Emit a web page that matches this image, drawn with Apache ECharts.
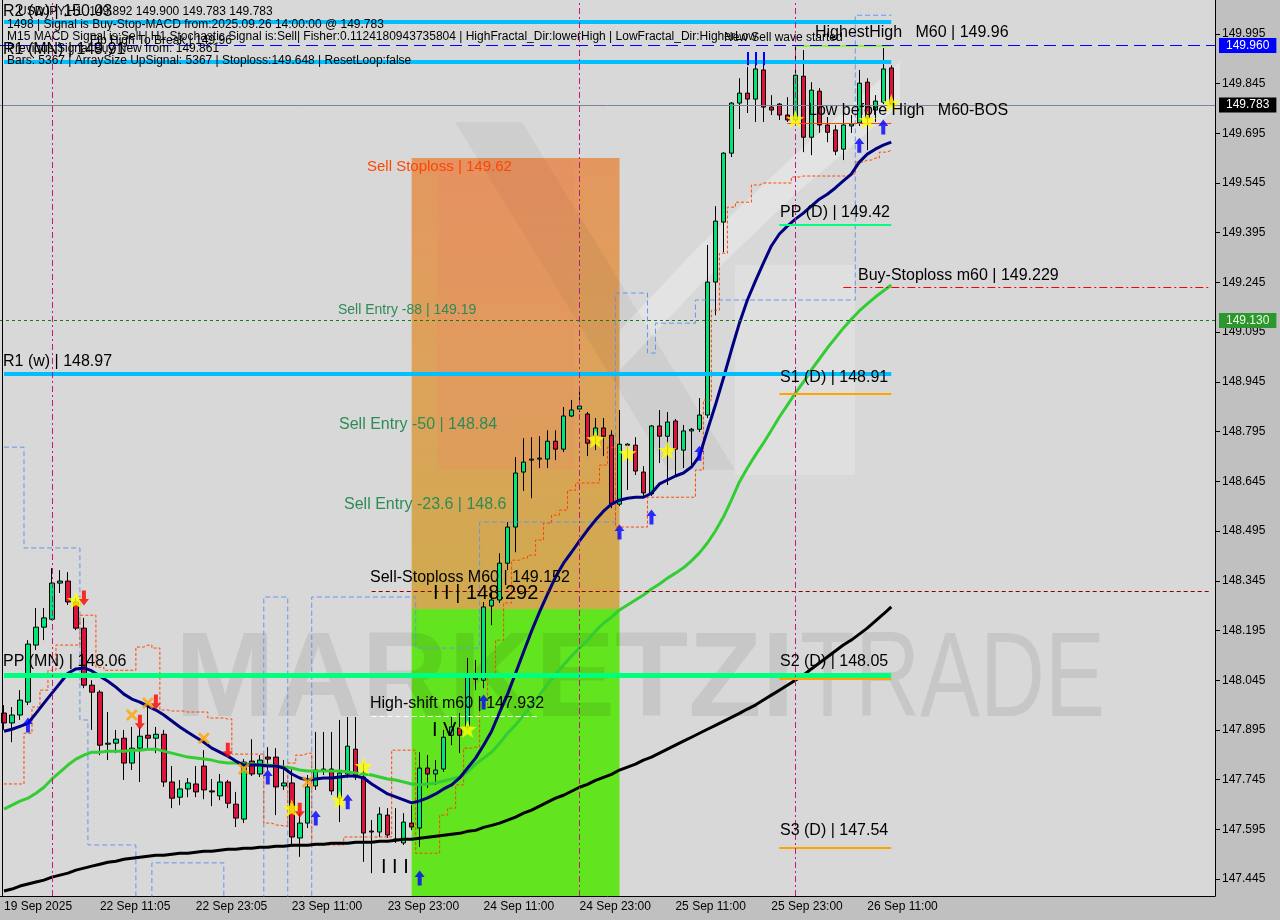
<!DOCTYPE html>
<html><head><meta charset="utf-8">
<script src="https://cdn.jsdelivr.net/npm/echarts@6.0.0/dist/echarts.min.js"></script>
<style>html,body{margin:0;padding:0;background:#c0c0c0;}#chart{width:1280px;height:920px;}</style>
</head><body><div id="chart"></div>
<script>
const FONT = '"Liberation Sans", Arial, sans-serif';

// H1 candles: [open, close, low, high]
const candles = [
[147.946,147.916,147.895,147.970],[147.916,147.940,147.858,147.964],[147.940,147.985,147.925,148.015],[147.979,148.154,147.970,148.166],
[148.151,148.205,148.136,148.263],[148.205,148.233,148.166,148.263],[148.229,148.338,148.226,148.383],[148.338,148.344,148.308,148.377],
[148.344,148.281,148.272,148.371],[148.281,148.202,148.196,148.293],[148.202,148.030,148.021,148.233],[148.030,148.009,147.895,148.045],
[148.009,147.849,147.819,148.015],[147.852,147.855,147.804,147.949],[147.855,147.867,147.825,147.895],[147.870,147.795,147.744,147.895],
[147.795,147.840,147.774,147.904],[147.840,147.876,147.738,147.904],[147.879,147.870,147.834,147.964],[147.870,147.882,147.825,147.904],
[147.882,147.738,147.723,147.895],[147.738,147.689,147.659,147.786],[147.692,147.717,147.668,147.744],[147.717,147.735,147.692,147.750],
[147.732,147.708,147.692,147.786],[147.786,147.714,147.686,147.834],[147.711,147.708,147.665,147.747],[147.696,147.738,147.683,147.762],
[147.738,147.674,147.659,147.744],[147.671,147.629,147.602,147.708],[147.626,147.798,147.614,147.807],[147.801,147.762,147.756,147.867],
[147.762,147.804,147.753,147.819],[147.813,147.807,147.774,147.843],[147.813,147.723,147.638,147.840],[147.726,147.735,147.714,147.804],
[147.735,147.572,147.548,147.783],[147.569,147.614,147.512,147.644],[147.614,147.723,147.599,147.759],[147.726,147.774,147.714,147.889],
[147.774,147.777,147.759,147.889],[147.777,147.711,147.699,147.889],[147.689,147.765,147.617,147.925],[147.762,147.846,147.750,147.934],
[147.837,147.753,147.744,147.934],[147.753,147.584,147.497,147.795],[147.590,147.587,147.463,147.623],[147.587,147.641,147.572,147.662],
[147.638,147.578,147.569,147.659],[147.563,147.566,147.554,147.659],[147.554,147.617,147.548,147.644],[147.614,147.602,147.593,147.668],
[147.599,147.780,147.542,147.828],[147.780,147.762,147.720,147.819],[147.762,147.774,147.729,147.804],[147.777,147.873,147.768,147.895],
[147.879,147.904,147.849,147.934],[147.901,147.879,147.825,147.946],[147.904,148.057,147.895,148.112],[148.057,148.048,148.015,148.106],
[148.045,148.266,148.021,148.281],[148.269,148.287,148.211,148.308],[148.287,148.398,148.278,148.428],[148.398,148.507,148.377,148.522],
[148.507,148.670,148.431,148.718],[148.673,148.703,148.616,148.775],[148.709,148.712,148.594,148.778],[148.712,148.715,148.685,148.781],
[148.712,148.766,148.685,148.799],[148.766,148.742,148.709,148.799],[148.742,148.842,148.733,148.869],[148.842,148.860,148.839,148.890],
[148.863,148.872,148.854,148.920],[148.848,148.760,148.721,148.854],[148.784,148.806,148.739,148.836],[148.806,148.781,148.721,148.836],
[148.784,148.576,148.564,148.799],[148.576,148.757,148.570,148.860],[148.757,148.754,148.619,148.760],[148.754,148.676,148.664,148.778],
[148.673,148.610,148.601,148.691],[148.607,148.812,148.601,148.815],[148.812,148.781,148.700,148.860],[148.781,148.824,148.634,148.854],
[148.827,148.742,148.664,148.833],[148.739,148.797,148.685,148.815],[148.797,148.802,148.685,148.806],[148.802,148.845,148.794,148.896],
[148.845,149.246,148.836,149.358],[149.246,149.430,149.146,149.475],[149.427,149.635,149.336,149.638],[149.635,149.786,149.623,149.789],
[149.786,149.816,149.708,149.861],[149.816,149.798,149.756,149.895],[149.798,149.889,149.729,149.925],[149.886,149.774,149.729,149.925],
[149.774,149.765,149.750,149.810],[149.783,149.750,149.735,149.786],[149.750,149.735,149.729,149.804],[149.735,149.870,149.729,149.955],
[149.867,149.683,149.638,149.946],[149.683,149.825,149.629,149.849],[149.822,149.720,149.696,149.831],[149.720,149.698,149.668,149.744],
[149.705,149.641,149.629,149.720],[149.647,149.720,149.614,149.750],[149.717,149.723,149.696,149.750],[149.726,149.846,149.717,149.886],
[149.849,149.741,149.644,149.861],[149.765,149.792,149.729,149.810],[149.789,149.889,149.783,149.952],[149.892,149.783,149.783,149.900]
];

const maFast = [147.891,147.897,147.906,147.915,147.945,147.976,148.006,148.036,148.066,148.079,
148.082,148.073,148.057,148.042,148.024,148.003,147.988,147.979,147.967,147.955,
147.940,147.922,147.904,147.888,147.873,147.858,147.840,147.828,147.816,147.801,
147.789,147.789,147.789,147.786,147.786,147.780,147.762,147.750,147.744,147.747,
147.750,147.750,147.753,147.756,147.756,147.750,147.732,147.717,147.702,147.693,
147.684,147.675,147.681,147.690,147.702,147.717,147.729,147.750,147.780,147.810,
147.849,147.891,147.948,148.003,148.066,148.130,148.193,148.251,148.305,148.356,
148.398,148.431,148.465,148.498,148.528,148.555,148.576,148.588,148.594,148.597,
148.597,148.609,148.637,148.649,148.661,148.670,148.688,148.721,148.799,148.875,
148.956,149.041,149.122,149.192,149.249,149.303,149.355,149.391,149.415,149.436,
149.454,149.475,149.496,149.511,149.530,149.551,149.572,149.608,149.632,149.647,
149.659,149.668];

const maMid = [147.656,147.668,147.680,147.689,147.704,147.722,147.747,147.768,147.789,147.807,
147.819,147.828,147.828,147.831,147.831,147.831,147.834,147.834,147.837,147.837,
147.831,147.825,147.819,147.813,147.810,147.807,147.804,147.798,147.795,147.795,
147.792,147.792,147.789,147.789,147.786,147.783,147.780,147.774,147.771,147.771,
147.771,147.771,147.771,147.768,147.765,147.762,147.759,147.753,147.747,147.744,
147.738,147.732,147.729,147.732,147.735,147.741,147.747,147.753,147.768,147.792,
147.810,147.828,147.855,147.885,147.910,147.940,147.967,148.000,148.033,148.063,
148.091,148.118,148.142,148.166,148.193,148.217,148.235,148.257,148.272,148.287,
148.302,148.320,148.335,148.353,148.368,148.384,148.405,148.429,148.459,148.495,
148.537,148.588,148.643,148.685,148.724,148.760,148.799,148.839,148.875,148.911,
148.944,148.981,149.014,149.047,149.077,149.107,149.134,149.159,149.180,149.201,
149.219,149.237];

const maSlow = [147.409,147.415,147.424,147.430,147.436,147.442,147.451,147.457,147.463,147.472,
147.478,147.484,147.490,147.496,147.499,147.505,147.508,147.511,147.514,147.517,
147.517,147.520,147.523,147.523,147.526,147.529,147.529,147.532,147.535,147.535,
147.538,147.538,147.541,147.541,147.544,147.544,147.547,147.547,147.547,147.550,
147.550,147.553,147.553,147.553,147.556,147.556,147.556,147.559,147.559,147.562,
147.565,147.565,147.568,147.571,147.574,147.577,147.580,147.583,147.589,147.592,
147.601,147.607,147.614,147.623,147.632,147.644,147.653,147.665,147.677,147.689,
147.698,147.710,147.722,147.731,147.743,147.752,147.761,147.774,147.783,147.792,
147.804,147.813,147.825,147.837,147.849,147.861,147.873,147.885,147.897,147.909,
147.921,147.933,147.945,147.958,147.970,147.985,148.000,148.015,148.030,148.045,
148.060,148.079,148.097,148.115,148.133,148.151,148.166,148.184,148.202,148.223,
148.244,148.266];

const trailStop = [147.732,147.732,147.732,147.885,147.964,148.015,148.075,148.151,148.151,148.151,
148.241,148.241,148.084,148.075,148.075,148.075,148.075,148.145,148.151,148.142,
147.955,147.952,147.952,147.949,147.949,147.949,147.931,147.931,147.928,147.822,
147.822,147.822,147.822,147.614,147.608,147.605,147.795,147.819,147.825,147.548,
147.548,147.548,147.548,147.572,147.572,147.572,147.572,147.572,147.572,147.834,
147.834,147.834,147.523,147.523,147.523,147.638,147.659,147.729,147.840,147.843,
147.970,148.060,148.166,148.278,148.407,148.413,148.422,148.468,148.519,148.543,
148.558,148.618,148.640,148.640,148.640,148.694,148.748,148.507,148.507,148.507,
148.507,148.597,148.597,148.597,148.597,148.597,148.597,148.679,148.890,149.161,
149.333,149.472,149.487,149.487,149.539,149.545,149.545,149.545,149.545,149.563,
149.566,149.566,149.566,149.566,149.566,149.566,149.572,149.608,149.614,149.620,
149.638,149.644];

const fractalLine = [148.748,148.748,148.748,148.444,148.444,148.444,148.444,148.444,148.444,148.444,
147.925,147.548,147.548,147.548,147.548,147.548,147.548,147.300,147.300,147.494,
147.494,147.494,147.494,147.494,147.494,147.494,147.494,147.494,147.300,147.300,
147.300,147.300,147.300,148.296,148.296,148.296,147.300,147.300,147.300,148.296,
148.296,148.296,148.296,148.296,148.296,148.296,148.296,148.296,148.296,148.296,
148.296,148.296,148.142,148.142,148.142,148.142,148.142,148.142,148.142,148.142,
148.522,148.522,148.522,148.522,148.522,148.522,148.522,148.522,148.522,148.522,
148.522,148.522,148.522,148.522,148.522,148.522,148.522,149.213,149.213,149.213,
149.213,149.032,149.122,149.122,149.122,149.122,149.122,149.192,149.192,149.192,
149.192,149.192,149.192,149.192,149.192,149.192,149.192,149.192,149.192,149.192,
149.192,149.192,149.192,149.192,149.192,149.192,149.192,150.051,150.051,150.051,
150.051,150.051];

const xTickIndex = [0,12,24,36,48,60,72,84,96,108];
const xTickText = ['19 Sep 2025','22 Sep 11:05','22 Sep 23:05','23 Sep 11:00','23 Sep 23:00','24 Sep 11:00','24 Sep 23:00','25 Sep 11:00','25 Sep 23:00','26 Sep 11:00'];
const yTickValues = [147.445,147.595,147.745,147.895,148.045,148.195,148.345,148.495,148.645,148.795,148.945,149.095,149.245,149.395,149.545,149.695,149.845,149.995];

const starMarks = [[9,148.287],[36,147.659],[42,147.684],[45,147.786],[58,147.898],[74,148.772],[78,148.730],[83,148.739],[99,149.738],[108,149.735],[111,149.786]];
const buyArrows = [[3,147.910],[33,147.753],[39,147.629],[43,147.678],[52,147.448],[60,147.979],[77,148.492],[81,148.537],[87,148.730],[107,149.659],[110,149.714]];
const sellArrows = [[10,148.293],[17,147.918],[19,147.979],[28,147.834],[37,147.653]];
const crossMarks = [[16,147.940],[18,147.976],[25,147.870],[30,147.777],[38,147.738]];

const pivotNames = ['R2 (w)','R1 (MN)','R1 (w)','PP (MN)'];
const pivotValues = [150.03,149.91,148.97,148.06];
const dailyNames = ['PP (D)','S1 (D)','S2 (D)','S3 (D)'];
const dailyValues = [149.42,148.91,148.05,147.54];
const sellZone = [149.62,148.26];
const buyZone = [148.26,147.394];
const zoneBars = [51,77];
const highestHigh = 149.96;
const lastPrice = 149.783;
const bidLine = 149.13;
const buyStoploss = 149.229;
const sellStoplossLine = 148.314;
const highShift = 147.937;
const lowBeforeHigh = 149.726;
const separatorBars = [6,72,99];
const fractalTickBars = [93,94,95];
const fractalTickRange = [149.900,149.940];

const cats = Array.from({length:152},(_,i)=>String(i));

const STAR = 'path://M12,0 L15,8.5 L24,9 L17,14.5 L19.5,23 L12,18 L4.5,23 L7,14.5 L0,9 L9,8.5 Z';
const ARROW = 'path://M5,0 L10,6 L7,6 L7,14 L3,14 L3,6 L0,6 Z';
const CROSS = 'path://M0,2 L2,0 L6,4 L10,0 L12,2 L8,6 L12,10 L10,12 L6,8 L2,12 L0,10 L4,6 Z';

function seg(a,b,v,style){
  return [{coord:[a,v], lineStyle:style},{coord:[b,v]}];
}
const lines = [];
pivotValues.forEach((v,i)=>{
  lines.push(seg(0,111,v,{color:i===3?'#00FF7F':'#00BFFF',width:i===3?5:4,type:'solid'}));
});
dailyValues.forEach((v,i)=>{
  lines.push(seg(97,111,v,{color:i===0?'#00FF7F':'#FFA500',width:2,type:'solid'}));
});
lines.push(seg(99,111,highestHigh,{color:'#7CFC00',width:1.5,type:'solid'}));
lines.push(seg(98,111,lowBeforeHigh,{color:'#FF4500',width:1,type:'solid'}));
lines.push(seg(105,151,buyStoploss,{color:'#FF0000',width:1,type:[8,3,2,3]}));
lines.push(seg(46,151,sellStoplossLine,{color:'#8B0000',width:1,type:[4,3]}));
lines.push(seg(46,67,highShift,{color:'#FFFFFF',width:1,type:[5,3]}));
fractalTickBars.forEach(b=>{
  lines.push([{coord:[b,fractalTickRange[0]],lineStyle:{color:'#0000FF',width:2,type:'solid'}},{coord:[b,fractalTickRange[1]]}]);
});
separatorBars.forEach(b=>{
  lines.push({xAxis:b,lineStyle:{color:'#C71585',width:1,type:[6,3,2,3]}});
});
function priceBox(v,line,bg,fg){
  return {yAxis:v,lineStyle:line,label:{show:true,position:'end',distance:4,formatter:v.toFixed(3),
    backgroundColor:bg,color:fg,padding:[2,7,1,7],fontSize:12,fontFamily:FONT}};
}
lines.push(priceBox(highestHigh,{color:'#0000FF',width:1,type:[12,6]},'#0000FF','#FFFFFF'));
lines.push(priceBox(lastPrice,{color:'#778899',width:1,type:'solid'},'#000000','#FFFFFF'));
lines.push(priceBox(bidLine,{color:'#1A7A1A',width:1,type:[3,3]},'#2D962D','#E6FFE6'));

function txt(x,y,text,size,color){
  return {type:'text',x:x,y:y,z:100,silent:true,
    style:{text:text,font:(size||16)+'px '+FONT,fill:color||'#000',verticalAlign:'middle',align:'left'}};
}
function poly(points,fill){
  return {type:'polygon',z:1,z2:40,silent:true,shape:{points:points},style:{fill:fill}};
}
const texts = [
  // watermark logo (decorative)
  poly([[455,122],[522,122],[735,470],[668,470]],'rgba(0,0,0,0.045)'),
  poly([[620,330],[700,245],[800,150],[900,62],[900,105],[800,190],[700,285],[620,370]],'rgba(255,255,255,0.28)'),
  poly([[735,265],[855,265],[855,475],[735,475]],'rgba(255,255,255,0.18)'),
  poly([[437,160],[575,160],[575,470],[437,470]],'rgba(245,120,110,0.18)'),
  {type:'text',x:175,y:683,z:1,z2:50,silent:true,style:{text:'MARKETZI',font:'bold 120px '+FONT,fill:'rgba(0,0,0,0.08)',verticalAlign:'middle'}},
  {type:'text',x:800,y:683,z:1,z2:50,scaleX:0.75,silent:true,style:{text:'TRADE',font:'120px '+FONT,fill:'rgba(0,0,0,0.08)',verticalAlign:'middle'}},
  txt(3,12,pivotNames[0]+' | '+pivotValues[0].toFixed(2),16),
  txt(3,50,pivotNames[1]+' | '+pivotValues[1].toFixed(2),16),
  txt(3,362,pivotNames[2]+' | '+pivotValues[2].toFixed(2),16),
  txt(3,662,pivotNames[3]+' | '+pivotValues[3].toFixed(2),16),
  txt(780,213,dailyNames[0]+' | '+dailyValues[0].toFixed(2),16),
  txt(780,378,dailyNames[1]+' | '+dailyValues[1].toFixed(2),16),
  txt(780,662,dailyNames[2]+' | '+dailyValues[2].toFixed(2),16),
  txt(780,831,dailyNames[3]+' | '+dailyValues[3].toFixed(2),16),
  txt(858,276,'Buy-Stoploss m60 | '+buyStoploss.toFixed(3),16),
  txt(815,33,'HighestHigh   M60 | '+highestHigh.toFixed(2),16),
  txt(808,111,'Low before High   M60-BOS',16),
  txt(367,167,'Sell Stoploss | 149.62',15,'#FF4500'),
  txt(338,310,'Sell Entry -88 | 149.19',14,'#2E8B57'),
  txt(339,425,'Sell Entry -50 | 148.84',16,'#2E8B57'),
  txt(344,505,'Sell Entry -23.6 | 148.6',16,'#2E8B57'),
  txt(370,578,'Sell-Stoploss M60 | 149.152',16),
  txt(433,593,'I I | 148.292',20),
  txt(370,704,'High-shift m60 | 147.932',16),
  txt(432,730,'I V',20),
  txt(381,867,'I I I',20),
  txt(18,12,'USDJPY,H1  149.892 149.900 149.783 149.783',12),
  txt(7,25,'1498 | Signal is Buy-Stop-MACD from:2025.09.26 14:00:00 @ 149.783',12),
  txt(7,37,'M15 MACD Signal is:Sell | H1 Stochastic Signal is:Sell| Fisher:0.1124180943735804 | HighFractal_Dir:lowerHigh | LowFractal_Dir:HigherLow',12),
  txt(724,38,'New Sell wave started',12),
  txt(90,41,'Fib High To Break | 149.96',12),
  txt(7,49,'Previous Signal Buy New from: 149.861',12),
  txt(7,61,'Bars: 5367 | ArraySize UpSignal: 5367 | Stoploss:149.648 | ResetLoop:false',12),
  {type:'line',z:100,silent:true,shape:{x1:2.5,y1:0,x2:2.5,y2:896},style:{stroke:'#000',lineWidth:1}}
];

const chart = echarts.init(document.getElementById('chart'),null,{renderer:'canvas'});
chart.setOption({
  animation:false,
  backgroundColor:'#c0c0c0',
  grid:{left:-1,right:65,top:0,bottom:24,show:true,backgroundColor:'#d8d8d8',borderWidth:0},
  xAxis:{type:'category',data:cats,boundaryGap:true,
    axisLine:{lineStyle:{color:'#000',width:1}},
    axisTick:{alignWithLabel:true,interval:(i)=>xTickIndex.includes(i),length:4,lineStyle:{color:'#000'}},
    axisLabel:{interval:(i)=>xTickIndex.includes(i),formatter:(v,i)=>{const k=xTickIndex.indexOf(i);return k>=0?xTickText[k]:'';},
      align:'left',color:'#000',fontSize:12,fontFamily:FONT,margin:5},
    splitLine:{show:false}},
  yAxis:{type:'value',position:'right',min:147.394,max:150.097,scale:true,
    axisLine:{show:true,lineStyle:{color:'#000'}},
    axisTick:{show:true,customValues:yTickValues,length:5,lineStyle:{color:'#000'}},
    axisLabel:{customValues:yTickValues,formatter:(v)=>Number(v).toFixed(3),color:'#000',fontSize:12,fontFamily:FONT,margin:7},
    splitLine:{show:false}},
  graphic:{elements:texts},
  series:[
    {type:'candlestick',name:'USDJPY',data:candles,barWidth:5,z:2,
      itemStyle:{color:'#00E676',color0:'#DC143C',borderColor:'#000',borderColor0:'#000',borderColorDoji:'#000',borderWidth:1},
      markArea:{silent:true,z:1,data:[
        [{coord:[zoneBars[0],sellZone[0]],itemStyle:{color:{type:'linear',x:0,y:0,x2:0,y2:1,colorStops:[{offset:0,color:'#E3975F'},{offset:0.5,color:'#DCA35A'},{offset:1,color:'#CFAA4E'}]}}},{coord:[zoneBars[1],sellZone[1]]}],
        [{coord:[zoneBars[0],buyZone[0]],itemStyle:{color:'#62E41E'}},{coord:[zoneBars[1],buyZone[1]]}]
      ]}},
    {type:'line',name:'fractal',data:fractalLine,step:'middle',symbol:'none',z:3,lineStyle:{color:'#6495ED',width:1,type:[5,3]}},
    {type:'line',name:'trail',data:trailStop,step:'middle',symbol:'none',z:3,lineStyle:{color:'#FF4500',width:1,type:[3,2]}},
    {type:'line',name:'maSlow',data:maSlow,symbol:'none',z:3,lineStyle:{color:'#000000',width:3}},
    {type:'line',name:'maMid',data:maMid,symbol:'none',z:3,lineStyle:{color:'#32CD32',width:3}},
    {type:'line',name:'maFast',data:maFast,symbol:'none',z:3,lineStyle:{color:'#000080',width:3}},
    {type:'line',name:'levels',data:[],z:5,
      markLine:{silent:true,symbol:['none','none'],label:{show:false},data:lines}},
    {type:'scatter',data:crossMarks,symbol:CROSS,symbolSize:12,z:6,itemStyle:{color:'#FFA500'}},
    {type:'scatter',data:starMarks,symbol:STAR,symbolSize:18,z:6,itemStyle:{color:'#FFFF00'}},
    {type:'scatter',data:buyArrows,symbol:ARROW,symbolSize:[10,15],z:6,itemStyle:{color:'#0000FF'}},
    {type:'scatter',data:sellArrows,symbol:ARROW,symbolRotate:180,symbolSize:[10,15],z:6,itemStyle:{color:'#FF0000'}}
  ]
});
</script></body></html>
